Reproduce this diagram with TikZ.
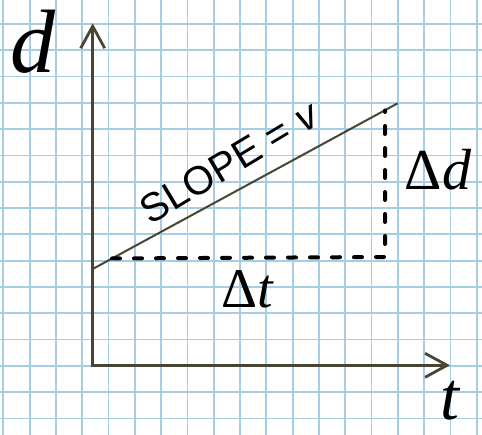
\documentclass[tikz,border=0pt]{standalone}
\usepackage{fontspec}
\setmainfont{Liberation Serif}
\setsansfont{Liberation Sans}
\usetikzlibrary{arrows.meta}
\definecolor{gridblue}{RGB}{165,206,228}
\definecolor{axisolive}{RGB}{72,70,50}
\begin{document}
\begin{tikzpicture}[
        x=1pt, y=-1pt,
        gridline/.style={gridblue, line width=1.8pt},
        axis/.style={{Straight Barb[length=22pt, width=24pt]}-{Straight Barb[length=22pt, width=24pt]},
            axisolive, line width=2.8pt, line cap=round, line join=miter},
        slopeline/.style={axisolive, line width=2pt},
        guide/.style={line width=4pt, line cap=round, dash pattern=on 8pt off 14pt},
        hand/.style={inner sep=0pt, text=black}
    ]
        \fill[white] (0,0) rectangle (482,435);
        \useasboundingbox (0,0) rectangle (482,435);
        \foreach \column in {0,...,18} {
            \draw[gridline] ({3.3+26.3*\column},0) -- ++(0,435);
        }
        \foreach \row in {1,...,16} {
            \draw[gridline] (0,{-2.3+26.3*\row}) -- ++(482,0);
        }
        \coordinate (origin) at (92.7,365.3);
        \coordinate (dtop) at (92.7,23.3);
        \coordinate (tend) at (450,365.3);
        \coordinate (lstart) at (92.7,269);
        \coordinate (lend) at (397.7,103.3);
        \coordinate (runstart) at (112,258.5);
        \coordinate (corner) at (385,257);
        \coordinate (risetop) at (385,110.5);
        \draw[axis] (dtop) -- (origin) -- (tend);
        \draw[slopeline] (lstart) -- (lend);
        \draw[guide] (runstart) -- (corner) -- (risetop);
        \node[hand, font=\fontsize{90}{90}\selectfont\itshape] (dlabel) at (33,42) {d};
        \node[hand, font=\fontsize{68}{68}\selectfont\itshape] (tlabel) at (450,401) {t};
        \node[hand, font=\fontsize{58}{58}\selectfont] (risetext) at (438,170) {Δ\textit{d}};
        \node[hand, font=\fontsize{56}{56}\selectfont] (runtext) at (248,289) {Δ\textit{t}};
        \node[hand, rotate=31, font=\fontsize{40}{40}\selectfont\sffamily] (slopetext) at (230,162) {SLOPE = \textit{v}};
    \end{tikzpicture}
\end{document}
